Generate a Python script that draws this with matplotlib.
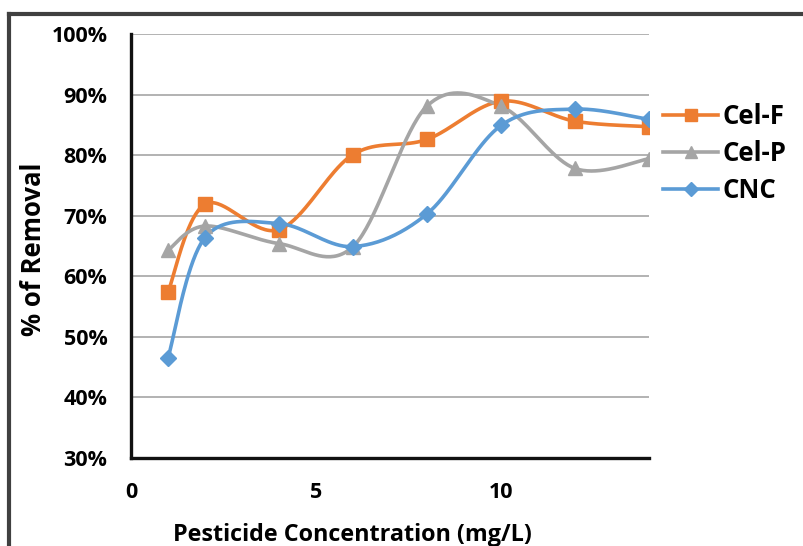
import numpy as np
import matplotlib
matplotlib.use("Agg")
import matplotlib.pyplot as plt
from matplotlib.lines import Line2D
from matplotlib.ticker import FuncFormatter
from matplotlib import font_manager

names = {f.name for f in font_manager.fontManager.ttflist if f.weight in (700, 'bold')}
family = 'Open Sans' if 'Open Sans' in names else 'DejaVu Sans'
plt.rcParams['font.family'] = [family, 'DejaVu Sans']
plt.rcParams['font.weight'] = 'bold'

# Pesticide concentration (mg/L) and removal (%) for each adsorbent
concentration = [1, 2, 4, 6, 8, 10, 12, 14]
cel_f = [57.4, 71.9, 67.7, 80.1, 82.6, 88.9, 85.6, 84.7]
cel_p = [64.3, 68.3, 65.4, 64.9, 88.1, 88.1, 77.8, 79.4]
cnc = [46.5, 66.4, 68.7, 64.9, 70.3, 84.9, 87.6, 85.9]

series_names = ["Cel-F", "Cel-P", "CNC"]
x_ticks = [0, 5, 10]
y_ticks = [30, 40, 50, 60, 70, 80, 90, 100]

colors = ["#ED7D31", "#A5A5A5", "#5B9BD5"]
markers = ["s", "^", "D"]
marker_sizes = [10.5, 10.5, 8.5]


def smooth(xs, ys, n=40):
    """Cardinal (Catmull-Rom) Bezier smoothing through every point."""
    p = np.column_stack([xs, ys]).astype(float)
    ext = np.vstack([p[0], p, p[-1]])
    t = np.linspace(0, 1, n)[:, None]
    out = []
    for i in range(len(p) - 1):
        p0, p1, p2, p3 = ext[i], ext[i + 1], ext[i + 2], ext[i + 3]
        c1 = p1 + (p2 - p0) / 6.0
        c2 = p2 - (p3 - p1) / 6.0
        seg = ((1 - t) ** 3) * p1 + 3 * ((1 - t) ** 2) * t * c1 \
            + 3 * (1 - t) * t ** 2 * c2 + t ** 3 * p2
        out.append(seg if i == 0 else seg[1:])
    out = np.vstack(out)
    return out[:, 0], out[:, 1]


fig = plt.figure(figsize=(8.04, 5.46), dpi=100)
ax = fig.add_axes([131 / 804, 88 / 546, 518 / 804, 424 / 546])

handles = []
for vals, name, c, m, ms in zip([cel_f, cel_p, cnc], series_names, colors, markers, marker_sizes):
    sx, sy = smooth(concentration, vals)
    ax.plot(sx, sy, color=c, lw=2.6, zorder=3, solid_capstyle='round')
    ax.plot(concentration, vals, linestyle='none', marker=m, ms=ms,
            color=c, markeredgecolor=c, zorder=4)
    handles.append(Line2D([], [], color=c, lw=2.6, marker=m, ms=ms * 0.8,
                          markeredgecolor=c, label=name))

ax.set_xlim(0, 14)
ax.set_ylim(30, 100)
ax.set_xticks(x_ticks)
ax.set_yticks(y_ticks)
ax.yaxis.set_major_formatter(FuncFormatter(lambda v, _: f"{v:.0f}%"))
ax.grid(axis='y', color='#A6A6A6', lw=1.2, zorder=1)
ax.set_axisbelow(True)
ax.tick_params(length=0, labelsize=15.5, pad=0)
ax.tick_params(axis='y', pad=17)
ax.tick_params(axis='x', pad=17)
for lbl in ax.get_xticklabels() + ax.get_yticklabels():
    lbl.set_fontweight('bold')

for s in ['top', 'right']:
    ax.spines[s].set_visible(False)
for s in ['left', 'bottom']:
    ax.spines[s].set_linewidth(2.4)
    ax.spines[s].set_color('#111111')

ax.set_xlabel("Pesticide Concentration (mg/L)", fontsize=16.8, fontweight='bold', va='center')
ax.xaxis.set_label_coords((352 - 131) / 518, (458 - 535) / 424)
ax.set_ylabel("% of Removal", fontsize=18.5, fontweight='bold', va='center')
ax.yaxis.set_label_coords((33 - 131) / 518, (458 - 249) / 424)

fig.legend(handles=handles, loc='upper left', bbox_to_anchor=(663 / 804, 1 - 103 / 546),
           frameon=False, handlelength=2.15, handletextpad=0.15,
           labelspacing=0.38, borderpad=0, borderaxespad=0,
           prop={'weight': 'bold', 'size': 18.5})

# outer frame along the top and left edges
fig.add_artist(Line2D([9.5 / 804, 9.5 / 804], [0, 1 - 14 / 546], color='#404040',
                      lw=3, transform=fig.transFigure))
fig.add_artist(Line2D([9.5 / 804, 1], [1 - 14 / 546, 1 - 14 / 546], color='#404040',
                      lw=3, transform=fig.transFigure))

fig.savefig("out.png", dpi=100)
